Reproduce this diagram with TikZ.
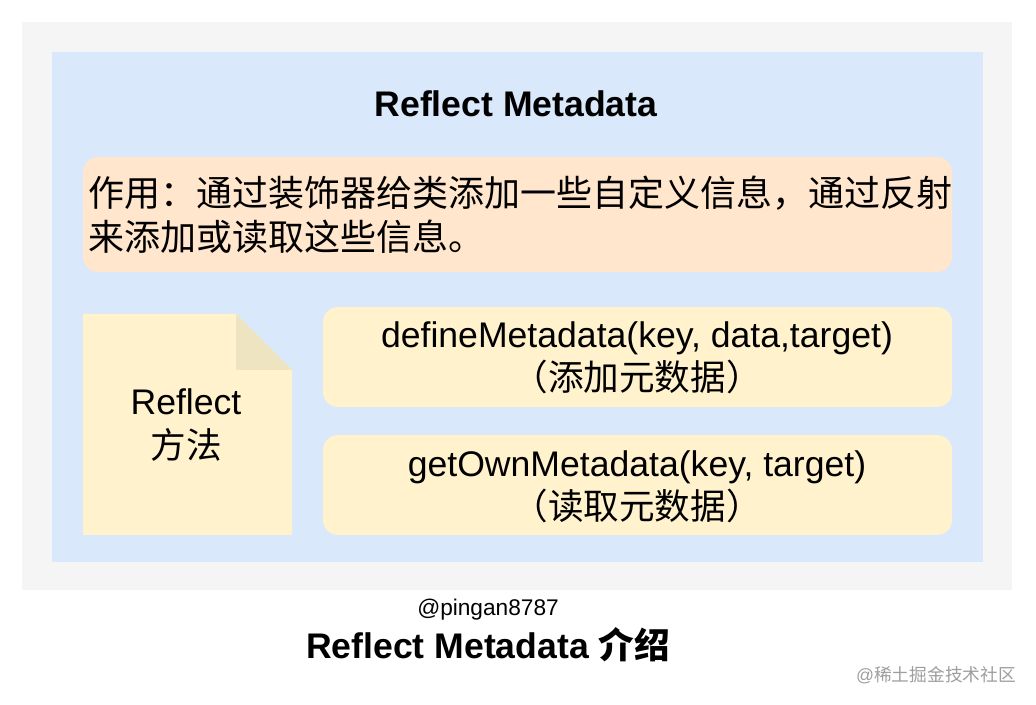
\documentclass[tikz,border=0pt]{standalone}
\usepackage{fontspec}
\setmainfont{Liberation Sans}
\newfontfamily\cjk{Noto Sans CJK SC}
\definecolor{outerbg}{HTML}{F5F5F5}
\definecolor{bluebg}{HTML}{DAE8FC}
\definecolor{orangebg}{HTML}{FFE6CC}
\definecolor{yellowbg}{HTML}{FFF2CC}
\definecolor{foldbg}{HTML}{EFE4C2}
\definecolor{markgray}{HTML}{9E9E9E}
\tikzset{
  boxtext/.style={inner sep=0pt, font=\fontsize{26.7}{32.5}\selectfont, align=center},
}
\begin{document}
\begin{tikzpicture}[x=0.75pt, y=-0.75pt]
      \useasboundingbox (0,0) rectangle (1036,705);
      \fill[white] (0,0) rectangle (1036,705);
      \fill[outerbg] (22,22) rectangle (1012,590);
      \fill[bluebg] (52,52) rectangle (983,562);
      \fill[orangebg, rounded corners=11.25pt] (83,157) rectangle (952,272);
      \fill[yellowbg] (83,314) -- (236,314) -- (292,370) -- (292,535) -- (83,535) -- cycle;
      \fill[foldbg] (236,314) -- (292,370) -- (236,370) -- cycle;
      \fill[yellowbg, rounded corners=11.25pt] (323,307) rectangle (952,407);
      \fill[yellowbg, rounded corners=11.25pt] (323,435) rectangle (952,535);
      \node[boxtext, font=\bfseries\fontsize{26.7}{32}\selectfont] (title) at (516,104) {Reflect Metadata};
      \node[boxtext, anchor=west, align=left, font=\cjk\fontsize{27}{33}\selectfont] (usage) at (88,215)
        {作用：通过装饰器给类添加一些自定义信息，通过反射\\来添加或读取这些信息。};
      \node[boxtext] (reflect) at (186,425) {Reflect\\{\cjk 方法}};
      \node[boxtext] (define) at (637,358) {defineMetadata(key, data,target)\\{\cjk （添加元数据）}};
      \node[boxtext] (getown) at (637,487) {getOwnMetadata(key, target)\\{\cjk （读取元数据）}};
      \node[inner sep=0pt, font=\fontsize{17}{20}\selectfont] (author) at (488,610) {@pingan8787};
      \node[inner sep=0pt, font=\bfseries\fontsize{26.7}{32}\selectfont] (caption) at (488,645) {Reflect Metadata {\cjk 介绍}};
      \node[inner sep=0pt, text=markgray, font=\fontsize{13.3}{16}\selectfont] (mark) at (936,675) {@{\cjk 稀土掘金技术社区}};
    \end{tikzpicture}
\end{document}
